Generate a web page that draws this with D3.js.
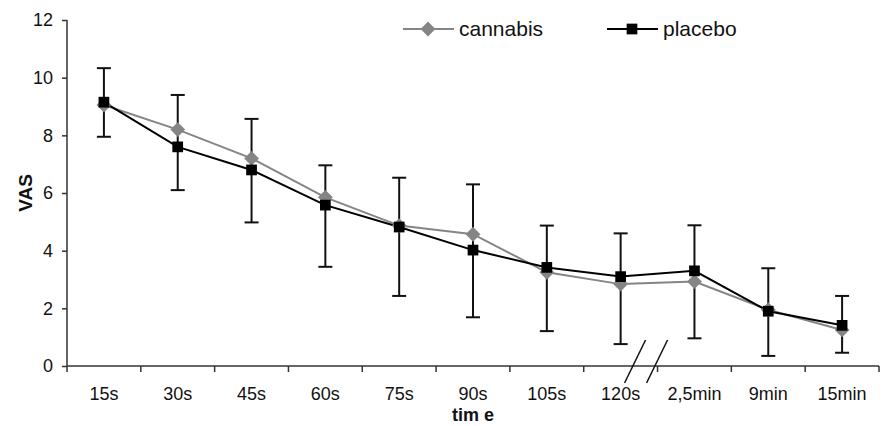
<!DOCTYPE html>
<meta charset="utf-8">
<style>
body { margin: 0; background: #fff; }
svg { display: block; font-family: "Liberation Sans", Arial, sans-serif; }
.axis path, .axis line { stroke: #333; stroke-width: 1.5px; }
.axis text { font-size: 18px; fill: #111; }
.err { stroke: #111; stroke-width: 2px; fill: none; }
.line-cannabis { fill: none; stroke: #858585; stroke-width: 2px; }
.line-placebo { fill: none; stroke: #000; stroke-width: 2px; }
.legend text { font-size: 21px; fill: #111; }
</style>
<svg width="887" height="426"></svg>
<script src="https://d3js.org/d3.v7.min.js"></script>
<script>

var times = ["15s", "30s", "45s", "60s", "75s", "90s", "105s", "120s", "2,5min", "9min", "15min"];
var cannabis = [9.05, 8.2, 7.2, 5.85, 4.87, 4.57, 3.25, 2.84, 2.93, 1.95, 1.25];
var placebo = [9.15, 7.6, 6.8, 5.58, 4.82, 4.02, 3.42, 3.1, 3.3, 1.9, 1.41];
var errTop = [10.33, 9.4, 8.57, 6.96, 6.53, 6.3, 4.87, 4.6, 4.88, 3.39, 2.43];
var errBottom = [7.95, 6.1, 4.98, 3.44, 2.43, 1.69, 1.21, 0.76, 0.96, 0.35, 0.46];
var yTicks = [0, 2, 4, 6, 8, 10, 12];

var svg = d3.select("svg"),
    margin = {top: 20, right: 8, bottom: 60, left: 67},
    width = +svg.attr("width") - margin.left - margin.right,
    height = +svg.attr("height") - margin.top - margin.bottom;

var x = d3.scaleBand().domain(times).range([0, width]),
    y = d3.scaleLinear().domain([0, 12]).range([height, 0]);

var g = svg.append("g")
    .attr("transform", "translate(" + margin.left + "," + margin.top + ")");

var cx = function(i) { return x(times[i]) + x.bandwidth() / 2; };

// y axis
var yAxis = g.append("g")
    .attr("class", "axis")
    .call(d3.axisLeft(y).tickValues(yTicks).tickSize(5).tickPadding(9));
yAxis.select(".domain").attr("d", "M0," + height + "V0");

// x axis with ticks at band edges
var xAxis = g.append("g")
    .attr("class", "axis")
    .attr("transform", "translate(0," + height + ")");
xAxis.append("line").attr("x1", 0).attr("x2", width);
xAxis.selectAll(".tk")
    .data(d3.range(times.length + 1))
  .enter().append("line")
    .attr("x1", function(i) { return i * x.step(); })
    .attr("x2", function(i) { return i * x.step(); })
    .attr("y1", 0).attr("y2", 6);
xAxis.selectAll(".lbl")
    .data(times)
  .enter().append("text")
    .attr("x", function(d) { return x(d) + x.bandwidth() / 2; })
    .attr("y", 34)
    .attr("text-anchor", "middle")
    .text(function(d) { return d; });

// axis break marks
var bx = x.step() * 8;
[bx - 22, bx].forEach(function(c) {
  g.append("line")
      .attr("x1", c - 11).attr("y1", height + 17)
      .attr("x2", c + 10).attr("y2", height - 26)
      .attr("stroke", "#111").attr("stroke-width", 1.5);
});

// error bars
var eb = g.append("g").attr("class", "err");
times.forEach(function(t, i) {
  var c = cx(i);
  eb.append("line").attr("x1", c).attr("x2", c).attr("y1", y(errTop[i])).attr("y2", y(errBottom[i]));
  eb.append("line").attr("x1", c - 7).attr("x2", c + 7).attr("y1", y(errTop[i])).attr("y2", y(errTop[i]));
  eb.append("line").attr("x1", c - 7).attr("x2", c + 7).attr("y1", y(errBottom[i])).attr("y2", y(errBottom[i]));
});

var line = d3.line()
    .x(function(d, i) { return cx(i); })
    .y(function(d) { return y(d); });

g.append("path").datum(cannabis).attr("class", "line-cannabis").attr("d", line);
g.append("path").datum(placebo).attr("class", "line-placebo").attr("d", line);

var diamond = d3.symbol().type(d3.symbolDiamond2).size(140);
var square = d3.symbol().type(d3.symbolSquare).size(115);

g.selectAll(".dia")
    .data(cannabis)
  .enter().append("path")
    .attr("d", diamond)
    .attr("transform", function(d, i) { return "translate(" + cx(i) + "," + y(d) + ")"; })
    .attr("fill", "#858585");

g.selectAll(".sq")
    .data(placebo)
  .enter().append("path")
    .attr("d", square)
    .attr("transform", function(d, i) { return "translate(" + cx(i) + "," + y(d) + ")"; })
    .attr("fill", "#000");

// axis titles
svg.append("text")
    .attr("transform", "translate(32," + (margin.top + y(6)) + ") rotate(-90)")
    .attr("text-anchor", "middle")
    .attr("font-size", "19px")
    .attr("font-weight", "bold")
    .attr("fill", "#111")
    .text("VAS");

svg.append("text")
    .attr("x", margin.left + x.step() * 5.5)
    .attr("y", 421)
    .attr("text-anchor", "middle")
    .attr("font-size", "18px")
    .attr("font-weight", "bold")
    .attr("fill", "#111")
    .text("tim e");

// legend
var legend = svg.append("g").attr("class", "legend");
var items = [
  {name: "cannabis", x: 403, cls: "line-cannabis", sym: diamond, fill: "#858585"},
  {name: "placebo", x: 607, cls: "line-placebo", sym: square, fill: "#000"}
];
items.forEach(function(it) {
  legend.append("line").attr("class", it.cls)
      .attr("x1", it.x).attr("x2", it.x + 51).attr("y1", 29).attr("y2", 29);
  legend.append("path").attr("d", it.sym)
      .attr("transform", "translate(" + (it.x + 25) + ",29)")
      .attr("fill", it.fill);
  legend.append("text").attr("x", it.x + 56).attr("y", 36).text(it.name);
});

</script>
